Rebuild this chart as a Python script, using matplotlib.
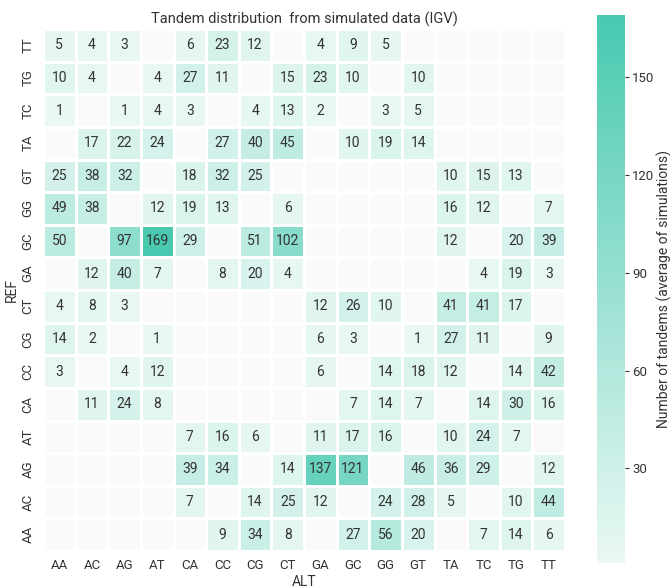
import numpy as np
import matplotlib
matplotlib.use("Agg")
import matplotlib.pyplot as plt
import seaborn as sns
from matplotlib.colors import LinearSegmentedColormap

plt.rcParams['font.family'] = ['Roboto', 'DejaVu Sans']
plt.rcParams['text.color'] = '#333333'
plt.rcParams['axes.labelcolor'] = '#333333'
plt.rcParams['xtick.color'] = '#333333'
plt.rcParams['ytick.color'] = '#333333'

alt = ["AA", "AC", "AG", "AT", "CA", "CC", "CG", "CT",
       "GA", "GC", "GG", "GT", "TA", "TC", "TG", "TT"]
ref = ["TT", "TG", "TC", "TA", "GT", "GG", "GC", "GA",
       "CT", "CG", "CC", "CA", "AT", "AG", "AC", "AA"]

n = np.nan
counts = [
    [5, 4, 3, n, 6, 23, 12, n, 4, 9, 5, n, n, n, n, n],          # TT
    [10, 4, n, 4, 27, 11, n, 15, 23, 10, n, 10, n, n, n, n],     # TG
    [1, n, 1, 4, 3, n, 4, 13, 2, n, 3, 5, n, n, n, n],           # TC
    [n, 17, 22, 24, n, 27, 40, 45, n, 10, 19, 14, n, n, n, n],   # TA
    [25, 38, 32, n, 18, 32, 25, n, n, n, n, n, 10, 15, 13, n],   # GT
    [49, 38, n, 12, 19, 13, n, 6, n, n, n, n, 16, 12, n, 7],     # GG
    [50, n, 97, 169, 29, n, 51, 102, n, n, n, n, 12, n, 20, 39], # GC
    [n, 12, 40, 7, n, 8, 20, 4, n, n, n, n, n, 4, 19, 3],        # GA
    [4, 8, 3, n, n, n, n, n, 12, 26, 10, n, 41, 41, 17, n],      # CT
    [14, 2, n, 1, n, n, n, n, 6, 3, n, 1, 27, 11, n, 9],         # CG
    [3, n, 4, 12, n, n, n, n, 6, n, 14, 18, 12, n, 14, 42],      # CC
    [n, 11, 24, 8, n, n, n, n, n, 7, 14, 7, n, 14, 30, 16],      # CA
    [n, n, n, n, 7, 16, 6, n, 11, 17, 16, n, 10, 24, 7, n],      # AT
    [n, n, n, n, 39, 34, n, 14, 137, 121, n, 46, 36, 29, n, 12], # AG
    [n, n, n, n, 7, n, 14, 25, 12, n, 24, 28, 5, n, 10, 44],     # AC
    [n, n, n, n, n, 9, 34, 8, n, 27, 56, 20, n, 7, 14, 6],       # AA
]
data = np.array(counts, dtype=float)

cmap = LinearSegmentedColormap.from_list("teal", ["#eaf8f4", "#48c9b0"])

fig = plt.figure(figsize=(6.72, 5.88), dpi=100)
ax = fig.add_axes([43 / 672, 37 / 588, 522 / 672, 522 / 588])
cax = fig.add_axes([597 / 672, 25 / 588, 28 / 672, 548 / 588])
ax.set_facecolor('#fafafa')

sns.heatmap(data, ax=ax, cbar_ax=cax, cmap=cmap, mask=np.isnan(data),
            annot=True, fmt=".0f", annot_kws={"fontsize": 10, "color": "#333333"},
            linewidths=0.8, linecolor="white", xticklabels=alt, yticklabels=ref,
            cbar_kws={"label": "Number of tandems (average of simulations)"})

ax.set_title("Tandem distribution  from simulated data (IGV)", fontsize=10.5, pad=4)
ax.set_xlabel("ALT", fontsize=10, labelpad=2)
ax.set_ylabel("REF", fontsize=10, labelpad=2)
ax.tick_params(axis='both', length=0, labelsize=9.5, pad=6)
plt.setp(ax.get_yticklabels(), rotation=90, va='center')
plt.setp(ax.get_xticklabels(), rotation=0)

cax.set_yticks([30, 60, 90, 120, 150])
cax.tick_params(length=3, width=0.8, labelsize=9.5, pad=2)
cax.yaxis.label.set_size(10)
cax.yaxis.set_label_coords(2.12, 0.5)
for s in cax.spines.values():
    s.set_visible(False)

fig.savefig("out.png", dpi=100)
